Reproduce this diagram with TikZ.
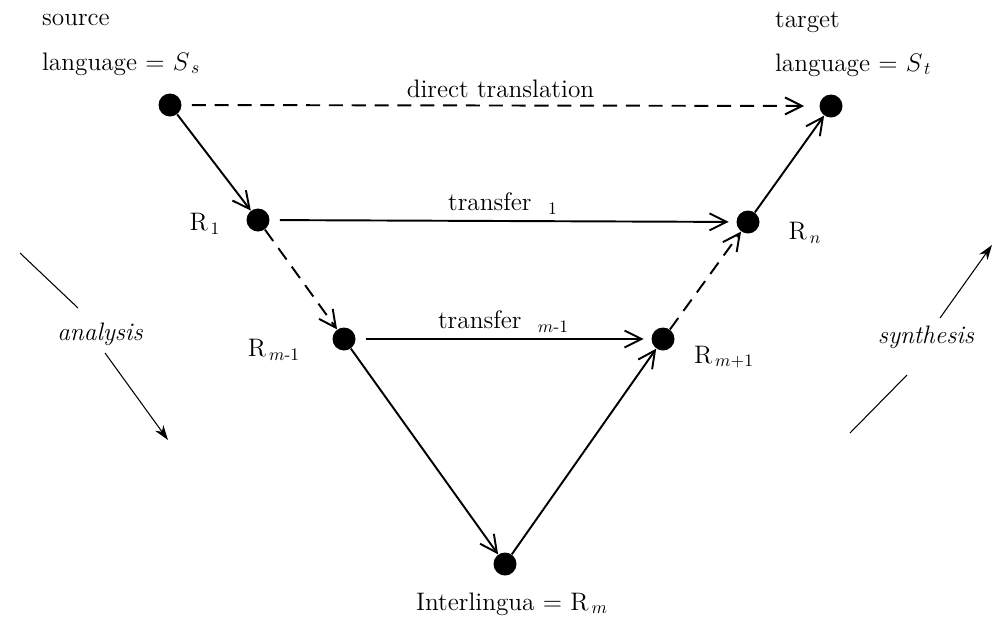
\documentclass[tikz,border=0pt]{standalone}
\usepackage{amsmath}
\usepackage{tikz}
\usetikzlibrary{arrows.meta}

\begin{document}
\begin{tikzpicture}[
x=0.02cm,y=-0.02cm,
dot/.style={circle,fill,inner sep=0pt,minimum size=0.46cm},
lbl/.style={font=\Large,inner sep=1pt},
arrow/.style={-{Straight Barb[length=3.4mm,width=3.4mm]},line width=1.1pt},
dasharrow/.style={arrow,dash pattern=on 8pt off 5pt},
side/.style={-{Stealth[length=3mm,width=2mm]},line width=0.6pt}
]
\useasboundingbox (0,0) rectangle (994,626);

\node[dot] (src) at (170,105) {};
\node[dot] (tgt) at (831,106) {};
\node[dot] (r1) at (258,220) {};
\node[dot] (rn) at (748,222) {};
\node[dot] (rm1) at (344,339) {};
\node[dot] (rmp1) at (663,339) {};
\node[dot] (inter) at (505,564) {};

\node[lbl,anchor=west] (srcname) at (40,20) {source};
\node[lbl,anchor=west] (srclang) at (40,64) {language = $S_{\,s}$};
\node[lbl,anchor=west] (tgtname) at (773,22) {target};
\node[lbl,anchor=west] (tgtlang) at (773,65) {language = $S_{\,t}$};
\node[lbl] (r1name) at (205,224) {$\mathrm{R}_{\,1}$};
\node[lbl] (rnname) at (805,233) {$\mathrm{R}_{\,n}$};
\node[lbl] (rm1name) at (274,350) {$\mathrm{R}_{\,m\text{-}1}$};
\node[lbl] (rmp1name) at (724,357) {$\mathrm{R}_{\,m+1}$};
\node[lbl] (intername) at (512,604) {Interlingua = $\mathrm{R}_{\,m}$};
\node[lbl,font=\Large\itshape] (analysis) at (100,334) {analysis};
\node[lbl,font=\Large\itshape] (synthesis) at (926,337) {synthesis};

\coordinate (an1) at (20,253);
\coordinate (an2) at (78,308);
\coordinate (an3) at (105,353);
\coordinate (an4) at (168,440);
\coordinate (sy1) at (850,433);
\coordinate (sy2) at (907,375);
\coordinate (sy3) at (940,318);
\coordinate (sy4) at (992,245);

\draw[dasharrow,shorten <=0.2cm,shorten >=0.3cm] (src) -- node[lbl,above=3pt] (direct) {direct translation} (tgt);
\draw[arrow] (src) -- (r1);
\draw[dasharrow] (r1) -- (rm1);
\draw[arrow] (rm1) -- (inter);
\draw[arrow] (inter) -- (rmp1);
\draw[dasharrow] (rmp1) -- (rn);
\draw[arrow] (rn) -- (tgt);
\draw[arrow,shorten <=0.2cm,shorten >=0.15cm] (r1) -- node[lbl,above=2pt] (tr1) {transfer\ \ $_1$} (rn);
\draw[arrow,shorten <=0.2cm,shorten >=0.15cm] (rm1) -- node[lbl,above=2pt] (trm1) {transfer\ \ $_{m\text{-}1}$} (rmp1);

\draw[line width=0.6pt] (an1) -- (an2);
\draw[side] (an3) -- (an4);
\draw[line width=0.6pt] (sy1) -- (sy2);
\draw[side] (sy3) -- (sy4);
\end{tikzpicture}
\end{document}
